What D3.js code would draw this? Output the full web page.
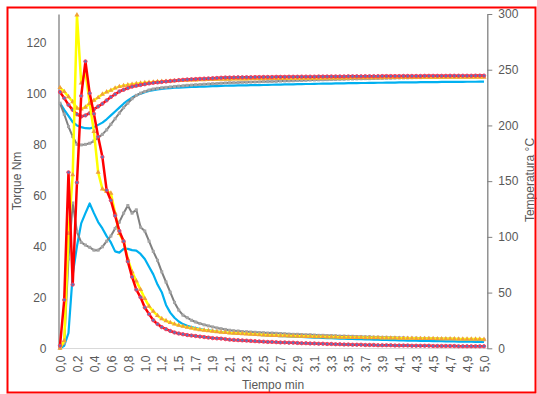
<!DOCTYPE html>
<html><head><meta charset="utf-8">
<script src="https://cdn.jsdelivr.net/npm/d3@7"></script>
<style>body{margin:0;background:#fff}svg{display:block}text{font-family:"Liberation Sans",Arial,sans-serif}</style>
</head><body>
<script>
const xLabels = ["0,0","0,2","0,4","0,6","0,8","1,0","1,2","1,5","1,7","1,9","2,1","2,3","2,5","2,7","2,9","3,1","3,3","3,5","3,7","3,9","4,1","4,3","4,5","4,7","4,9","5,0"];
const labelEvery = 4;
const torqueTicks = [0,20,40,60,80,100,120];
const tempTicks = [0,50,100,150,200,250,300];

const redTorque = [1,19,69,25,65,99,112.5,100,92,83,
75,62,58,52,46,42,34,28,23,20,
16,13.4,11,9.5,8.3,7.5,6.8,6.2,5.8,5.5,
5.2,5.0,4.8,4.6,4.4,4.2,4.0,3.9,3.8,3.6,
3.4,3.3,3.2,3.1,3.0,2.9,2.8,2.7,2.6,2.5,
2.5,2.4,2.3,2.3,2.2,2.2,2.1,2.0,2.0,1.9,
1.9,1.8,1.8,1.7,1.7,1.6,1.6,1.5,1.5,1.4,
1.4,1.4,1.3,1.3,1.3,1.2,1.2,1.2,1.2,1.1,
1.1,1.1,1.1,1.0,1.0,1.0,1.0,1.0,0.9,0.9,
0.9,0.9,0.9,0.9,0.8,0.8,0.8,0.8,0.8,0.8,0.8];
const yellowTorque = [0,3,45,68,130.7,104,108.5,96,85,69,
62.5,61.5,60.8,53,45,42,35,30,26.4,23,
19.5,16.5,14.5,12.8,11.6,10.8,10.1,9.5,9.0,8.6,
8.2,7.9,7.6,7.3,7.1,6.9,6.7,6.5,6.3,6.2,
6.0,5.9,5.8,5.7,5.6,5.5,5.4,5.3,5.2,5.1,
5.0,5.0,4.9,4.9,4.8,4.8,4.7,4.7,4.6,4.6,
4.5,4.5,4.5,4.4,4.4,4.4,4.3,4.3,4.3,4.2,
4.2,4.2,4.1,4.1,4.1,4.1,4.0,4.0,4.0,4.0,
3.9,3.9,3.9,3.9,3.8,3.8,3.8,3.8,3.8,3.7,
3.7,3.7,3.7,3.7,3.6,3.6,3.6,3.6,3.6,3.6,3.5];
const cyanTorque = [0,1,6,29,40,49,53,56.8,53,49.5,
47,44,41.5,38,37.5,39,39,38.5,38.3,37,
35,32,29,25,22,17,14,12,10.5,9.5,
8.8,8.3,7.9,7.5,7.2,7.0,6.8,6.6,6.4,6.2,
6.0,5.9,5.8,5.7,5.6,5.5,5.4,5.3,5.2,5.1,
5.0,4.9,4.8,4.8,4.7,4.6,4.5,4.5,4.4,4.3,
4.2,4.2,4.1,4.0,4.0,3.9,3.8,3.8,3.7,3.7,
3.6,3.6,3.5,3.5,3.4,3.4,3.3,3.3,3.2,3.2,
3.1,3.1,3.0,3.0,3.0,2.9,2.9,2.9,2.8,2.8,
2.8,2.7,2.7,2.7,2.6,2.6,2.6,2.6,2.5,2.5,2.5];
const grayTorque = [0,2,35,57,45.7,41.5,40.5,39.6,38.5,38.5,
39.8,42,44,47,49.5,53,56,53,54.3,47.5,
46,42,38,34.5,30,26,22,18,15,13,
12,11,10.3,9.7,9.2,8.8,8.4,8.0,7.7,7.4,
7.1,6.9,6.8,6.6,6.5,6.4,6.3,6.2,6.1,6.0,
6.0,5.9,5.8,5.7,5.6,5.5,5.5,5.4,5.3,5.3,
5.2,5.1,5.1,5.0,5.0,4.9,4.8,4.8,4.7,4.7,
4.6,4.6,4.5,4.5,4.4,4.4,4.3,4.3,4.2,4.2,
4.1,4.1,4.0,4.0,4.0,3.9,3.9,3.9,3.8,3.8,
3.7,3.7,3.7,3.6,3.6,3.5,3.5,3.5,3.4,3.4,3.3];

const redTemp = [230,224.5,218.5,214,210,208,209,211,214.5,217,
219.5,222.5,225.5,228,230.5,232,233.5,234.8,235.6,236.3,
237,237.7,238.2,238.6,239,239.4,239.8,240.2,240.6,240.9,
241.2,241.4,241.6,241.8,242,242.2,242.4,242.6,242.8,243,
243,243.1,243.2,243.2,243.3,243.3,243.4,243.4,243.5,243.5,
243.5,243.6,243.6,243.6,243.7,243.7,243.7,243.8,243.8,243.8,
243.8,243.9,243.9,243.9,244,244,244,244,244.1,244.1,
244.1,244.1,244.2,244.2,244.2,244.2,244.3,244.3,244.3,244.3,
244.3,244.4,244.4,244.4,244.4,244.4,244.5,244.5,244.5,244.5,
244.5,244.5,244.6,244.6,244.6,244.6,244.6,244.6,244.7,244.7,244.7];
const yellowTemp = [234,230.3,225.8,221.3,215.4,214.8,216.3,219.9,222.5,225,
228,230,231.5,233.5,234.8,235.6,236.3,236.9,237.4,237.9,
238.3,238.6,238.9,239.2,239.4,239.6,239.8,240,240.2,240.4,
240.5,240.7,240.8,240.9,241,241.1,241.2,241.3,241.4,241.5,
241.5,241.6,241.6,241.7,241.7,241.8,241.8,241.9,241.9,242,
242,242,242.1,242.1,242.2,242.2,242.2,242.3,242.3,242.3,
242.4,242.4,242.4,242.5,242.5,242.5,242.6,242.6,242.6,242.7,
242.7,242.7,242.7,242.8,242.8,242.8,242.8,242.9,242.9,242.9,
242.9,243,243,243,243,243,243.1,243.1,243.1,243.1,
243.1,243.2,243.2,243.2,243.2,243.2,243.3,243.3,243.3,243.3,243.3];
const cyanTemp = [220,214,208.5,203,200,198.5,197.5,197.3,198.5,200.5,
202.5,205.5,209,212.5,216,219.5,222.5,225,227,228.5,
229.8,231,231.7,232.3,232.8,233.2,233.5,233.8,234,234.2,
234.3,234.5,234.6,234.8,234.9,235,235.2,235.3,235.5,235.6,
235.8,235.8,235.9,236,236,236.1,236.2,236.2,236.3,236.4,
236.5,236.6,236.7,236.8,236.8,236.9,237,237.1,237.2,237.2,
237.3,237.4,237.5,237.5,237.6,237.7,237.7,237.8,237.9,237.9,
238,238.1,238.1,238.2,238.2,238.3,238.3,238.4,238.4,238.5,
238.6,238.6,238.6,238.7,238.7,238.8,238.8,238.8,238.9,238.9,
239,239,239,239.1,239.1,239.1,239.2,239.2,239.2,239.3,239.3];
const grayTemp = [220,210,199,190,183,182.5,183,184,186,189,
192,196,201,206,211,216,220,224,227,229,
230.5,231.8,232.7,233.3,233.8,234.2,234.6,235,235.3,235.6,
236,236.2,236.5,236.7,237,237.2,237.4,237.6,237.9,238.1,
238.3,238.4,238.5,238.7,238.8,238.9,239,239.1,239.3,239.4,
239.5,239.6,239.8,239.9,240,240.1,240.3,240.4,240.5,240.7,
240.8,240.9,241,241.1,241.2,241.3,241.4,241.5,241.6,241.7,
241.8,241.9,242,242,242.1,242.2,242.3,242.4,242.4,242.5,
242.6,242.7,242.7,242.8,242.9,242.9,243,243.1,243.1,243.2,
243.3,243.3,243.4,243.5,243.5,243.6,243.7,243.7,243.8,243.9,244];

const W = 537, H = 394;
const svg = d3.select("body").append("svg").attr("width", W).attr("height", H);
svg.append("rect").attr("width", W).attr("height", H).attr("fill", "#fff");

const n = redTorque.length;
const x = d3.scaleLinear().domain([0, n - 1]).range([60, 484]);
const yL = d3.scaleLinear().domain([0, 131.1]).range([348.3, 14]);
const yR = d3.scaleLinear().domain([0, 300]).range([348.3, 14]);

const txt = "#595959";
svg.append("line").attr("x1", 58.5).attr("x2", 487.3).attr("y1", 348.5).attr("y2", 348.5)
  .attr("stroke", "#d9d9d9").attr("stroke-width", 1.2);

const gx = svg.append("g").attr("transform", "translate(0,348.5)")
  .call(d3.axisBottom(x).tickValues(d3.range(0, n, labelEvery)).tickFormat((d, i) => xLabels[i]).tickSize(0));
gx.select(".domain").remove();
gx.selectAll("text").attr("transform", "rotate(-90)").attr("text-anchor", "end")
  .attr("x", -7).attr("y", 0).attr("dy", "0.35em").attr("fill", txt).attr("font-size", 12);

const gl = svg.append("g").attr("transform", "translate(58.5,0)")
  .call(d3.axisLeft(yL).tickValues(torqueTicks).tickSize(0).tickPadding(12));
gl.select(".domain").attr("stroke", "#808080").attr("stroke-width", 1.3);
gl.selectAll("text").attr("fill", txt).attr("font-size", 12);

const gr = svg.append("g").attr("transform", "translate(487.3,0)")
  .call(d3.axisRight(yR).tickValues(tempTicks).tickSize(5).tickSizeOuter(0).tickPadding(6));
gr.select(".domain").attr("stroke", "#808080").attr("stroke-width", 1.3);
gr.selectAll(".tick line").attr("stroke", "#808080");
gr.selectAll("text").attr("fill", txt).attr("font-size", 12);

svg.append("text").attr("x", 273).attr("y", 389).attr("text-anchor", "middle")
  .attr("font-size", 12).attr("fill", txt).text("Tiempo min");
svg.append("text").attr("transform", "translate(20.5,181) rotate(-90)").attr("text-anchor", "middle")
  .attr("font-size", 12).attr("fill", txt).text("Torque Nm");
svg.append("text").attr("transform", "translate(534,180) rotate(-90)").attr("text-anchor", "middle")
  .attr("font-size", 12).attr("fill", txt).text("Temperatura °C");

const series = [
  {data: cyanTemp, y: yR, color: "#00b0f0", w: 2.2, marker: null},
  {data: grayTemp, y: yR, color: "#808080", w: 2, marker: "square"},
  {data: yellowTemp, y: yR, color: "#ffff00", w: 2.5, marker: "triangle"},
  {data: redTemp, y: yR, color: "#ff0000", w: 2.5, marker: "circle"},
  {data: cyanTorque, y: yL, color: "#00b0f0", w: 2.2, marker: null},
  {data: grayTorque, y: yL, color: "#808080", w: 2, marker: "square"},
  {data: yellowTorque, y: yL, color: "#ffff00", w: 2.5, marker: "triangle"},
  {data: redTorque, y: yL, color: "#ff0000", w: 2.5, marker: "circle"}
];

series.forEach(s => {
  const line = d3.line().x((d, i) => x(i)).y(d => s.y(d));
  svg.append("path").datum(s.data).attr("d", line).attr("fill", "none")
    .attr("stroke", s.color).attr("stroke-width", s.w).attr("stroke-linejoin", "round");
  if (s.marker) {
    const type = s.marker === "circle" ? d3.symbolCircle : s.marker === "triangle" ? d3.symbolTriangle : d3.symbolSquare;
    const size = s.marker === "circle" ? 9 : s.marker === "triangle" ? 11 : 9;
    const sym = d3.symbol().type(type).size(size);
    const g = svg.append("g");
    g.selectAll("path").data(s.data).join("path")
      .attr("transform", (d, i) => `translate(${x(i)},${s.y(d)})`)
      .attr("d", sym)
      .attr("fill", s.marker === "circle" ? "#5b74b8" : s.marker === "triangle" ? "#f0a03a" : "#a5a5a5")
      .attr("stroke", s.marker === "circle" ? "#ff3b5c" : "none")
      .attr("stroke-width", 0.9);
  }
});

svg.append("rect").attr("x", 7.5).attr("y", 7.5).attr("width", 528).attr("height", 385)
  .attr("fill", "none").attr("stroke", "#ff0000").attr("stroke-width", 2);
</script>
</body></html>
